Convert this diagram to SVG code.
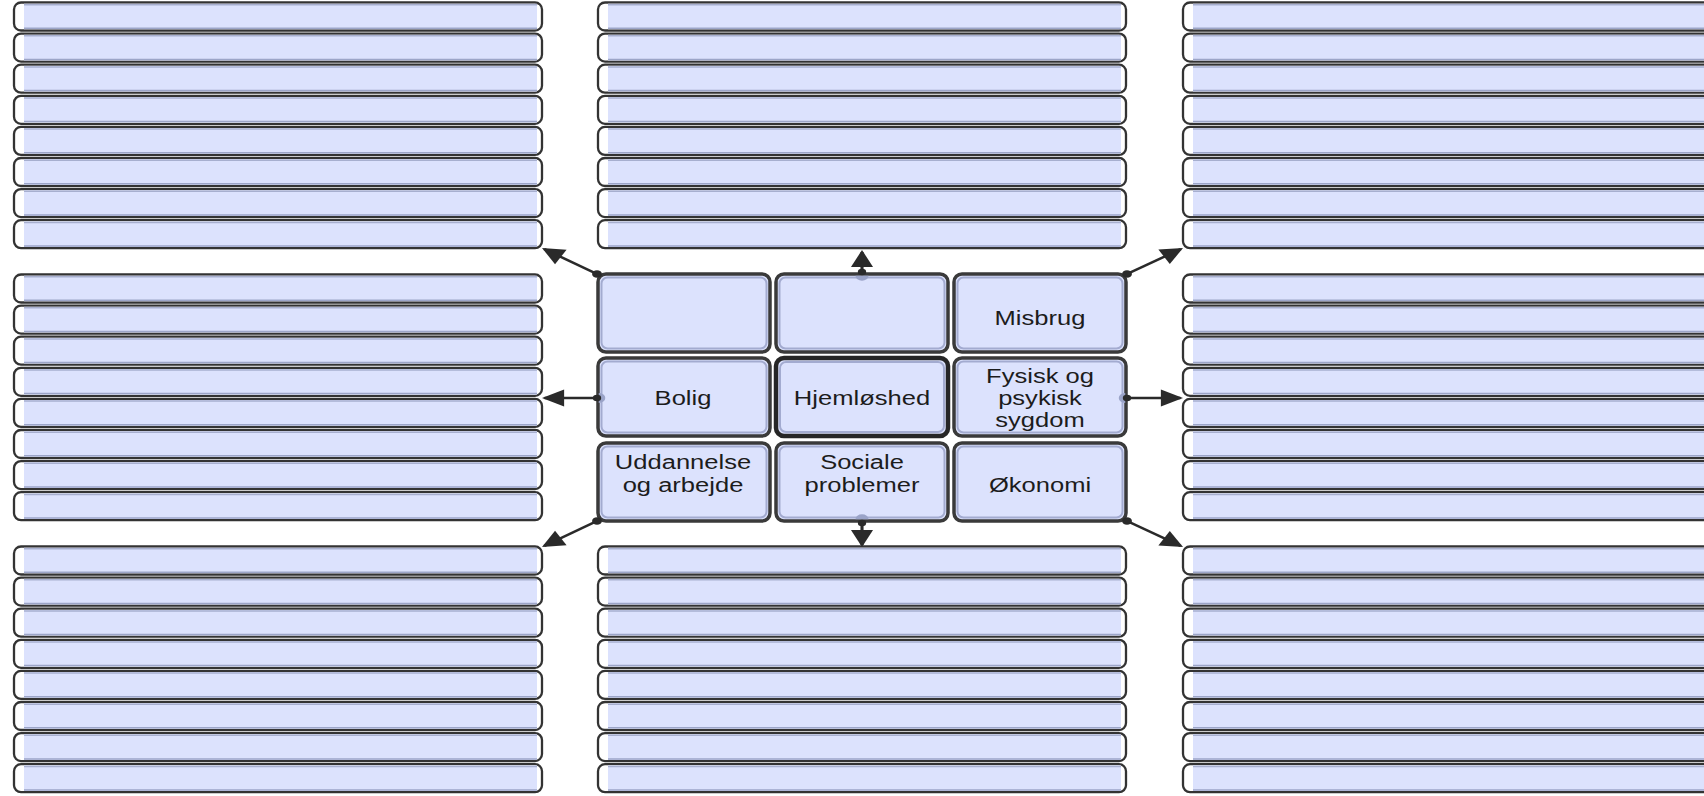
<svg xmlns="http://www.w3.org/2000/svg" xmlns:xlink="http://www.w3.org/1999/xlink" width="1704" height="796" viewBox="0 0 1704 796">
<style>
.t{font-family:"Liberation Sans",Arial,sans-serif;font-size:19.5px;fill:#1c1c1c;text-anchor:middle}
.cell{fill:#dce2fd;stroke:#3a3a3a;stroke-width:3.5}
.cellin{fill:none;stroke:#a3abd0;stroke-width:2}
.hub{stroke:#262626;stroke-width:4.5}
.ln{stroke:#2a2a2a;stroke-width:2.4;fill:none;marker-end:url(#ah)}
.dot{fill:#2a2a2a}
.port{fill:#9aa3c8}
</style>
<defs>
<marker id="ah" markerUnits="userSpaceOnUse" markerWidth="17" markerHeight="17" refX="15" refY="8.5" orient="auto" overflow="visible">
<path d="M0,0 L17,8.5 L0,17 Z" fill="#2a2a2a"/>
</marker>
<g id="bar">
<rect x="0" y="0" width="528" height="28" rx="7" fill="#fff" stroke="#333" stroke-width="2.3"/>
<rect x="10" y="1.2" width="513" height="25.6" fill="#dce2fd"/>
<line x1="10" y1="2.2" x2="523" y2="2.2" stroke="#a7afcf" stroke-width="1.5"/>
<line x1="10" y1="25.8" x2="523" y2="25.8" stroke="#9ca5c8" stroke-width="1.5"/>
</g>
</defs>
<rect width="1704" height="796" fill="#fff"/>

<!-- top-left list -->
<g id="tl1"><use xlink:href="#bar" x="14" y="2.5"/></g>
<g id="tl2"><use xlink:href="#bar" x="14" y="33.6"/></g>
<g id="tl3"><use xlink:href="#bar" x="14" y="64.7"/></g>
<g id="tl4"><use xlink:href="#bar" x="14" y="95.8"/></g>
<g id="tl5"><use xlink:href="#bar" x="14" y="126.9"/></g>
<g id="tl6"><use xlink:href="#bar" x="14" y="158"/></g>
<g id="tl7"><use xlink:href="#bar" x="14" y="189.1"/></g>
<g id="tl8"><use xlink:href="#bar" x="14" y="220.2"/></g>
<!-- top-center list -->
<g id="tc1"><use xlink:href="#bar" x="598" y="2.5"/></g>
<g id="tc2"><use xlink:href="#bar" x="598" y="33.6"/></g>
<g id="tc3"><use xlink:href="#bar" x="598" y="64.7"/></g>
<g id="tc4"><use xlink:href="#bar" x="598" y="95.8"/></g>
<g id="tc5"><use xlink:href="#bar" x="598" y="126.9"/></g>
<g id="tc6"><use xlink:href="#bar" x="598" y="158"/></g>
<g id="tc7"><use xlink:href="#bar" x="598" y="189.1"/></g>
<g id="tc8"><use xlink:href="#bar" x="598" y="220.2"/></g>
<!-- top-right list -->
<g id="tr1"><use xlink:href="#bar" x="1183" y="2.5"/></g>
<g id="tr2"><use xlink:href="#bar" x="1183" y="33.6"/></g>
<g id="tr3"><use xlink:href="#bar" x="1183" y="64.7"/></g>
<g id="tr4"><use xlink:href="#bar" x="1183" y="95.8"/></g>
<g id="tr5"><use xlink:href="#bar" x="1183" y="126.9"/></g>
<g id="tr6"><use xlink:href="#bar" x="1183" y="158"/></g>
<g id="tr7"><use xlink:href="#bar" x="1183" y="189.1"/></g>
<g id="tr8"><use xlink:href="#bar" x="1183" y="220.2"/></g>
<!-- middle-left list -->
<g id="ml1"><use xlink:href="#bar" x="14" y="274.5"/></g>
<g id="ml2"><use xlink:href="#bar" x="14" y="305.6"/></g>
<g id="ml3"><use xlink:href="#bar" x="14" y="336.7"/></g>
<g id="ml4"><use xlink:href="#bar" x="14" y="367.8"/></g>
<g id="ml5"><use xlink:href="#bar" x="14" y="398.9"/></g>
<g id="ml6"><use xlink:href="#bar" x="14" y="430"/></g>
<g id="ml7"><use xlink:href="#bar" x="14" y="461.1"/></g>
<g id="ml8"><use xlink:href="#bar" x="14" y="492.2"/></g>
<!-- middle-right list -->
<g id="mr1"><use xlink:href="#bar" x="1183" y="274.5"/></g>
<g id="mr2"><use xlink:href="#bar" x="1183" y="305.6"/></g>
<g id="mr3"><use xlink:href="#bar" x="1183" y="336.7"/></g>
<g id="mr4"><use xlink:href="#bar" x="1183" y="367.8"/></g>
<g id="mr5"><use xlink:href="#bar" x="1183" y="398.9"/></g>
<g id="mr6"><use xlink:href="#bar" x="1183" y="430"/></g>
<g id="mr7"><use xlink:href="#bar" x="1183" y="461.1"/></g>
<g id="mr8"><use xlink:href="#bar" x="1183" y="492.2"/></g>
<!-- bottom-left list -->
<g id="bl1"><use xlink:href="#bar" x="14" y="546.5"/></g>
<g id="bl2"><use xlink:href="#bar" x="14" y="577.6"/></g>
<g id="bl3"><use xlink:href="#bar" x="14" y="608.7"/></g>
<g id="bl4"><use xlink:href="#bar" x="14" y="639.8"/></g>
<g id="bl5"><use xlink:href="#bar" x="14" y="670.9"/></g>
<g id="bl6"><use xlink:href="#bar" x="14" y="702"/></g>
<g id="bl7"><use xlink:href="#bar" x="14" y="733.1"/></g>
<g id="bl8"><use xlink:href="#bar" x="14" y="764.2"/></g>
<!-- bottom-center list -->
<g id="bc1"><use xlink:href="#bar" x="598" y="546.5"/></g>
<g id="bc2"><use xlink:href="#bar" x="598" y="577.6"/></g>
<g id="bc3"><use xlink:href="#bar" x="598" y="608.7"/></g>
<g id="bc4"><use xlink:href="#bar" x="598" y="639.8"/></g>
<g id="bc5"><use xlink:href="#bar" x="598" y="670.9"/></g>
<g id="bc6"><use xlink:href="#bar" x="598" y="702"/></g>
<g id="bc7"><use xlink:href="#bar" x="598" y="733.1"/></g>
<g id="bc8"><use xlink:href="#bar" x="598" y="764.2"/></g>
<!-- bottom-right list -->
<g id="br1"><use xlink:href="#bar" x="1183" y="546.5"/></g>
<g id="br2"><use xlink:href="#bar" x="1183" y="577.6"/></g>
<g id="br3"><use xlink:href="#bar" x="1183" y="608.7"/></g>
<g id="br4"><use xlink:href="#bar" x="1183" y="639.8"/></g>
<g id="br5"><use xlink:href="#bar" x="1183" y="670.9"/></g>
<g id="br6"><use xlink:href="#bar" x="1183" y="702"/></g>
<g id="br7"><use xlink:href="#bar" x="1183" y="733.1"/></g>
<g id="br8"><use xlink:href="#bar" x="1183" y="764.2"/></g>

<!-- centre grid -->
<g id="c11"><rect class="cell" x="598" y="274" width="172" height="78" rx="8"/><rect class="cellin" x="601.5" y="277.5" width="165" height="71" rx="6"/></g>
<g id="c12"><rect class="cell" x="776" y="274" width="172" height="78" rx="8"/><rect class="cellin" x="779.5" y="277.5" width="165" height="71" rx="6"/></g>
<g id="misbrug"><rect class="cell" x="954" y="274" width="172" height="78" rx="8"/><rect class="cellin" x="957.5" y="277.5" width="165" height="71" rx="6"/>
<text class="t" transform="translate(1040,325) scale(1.31,1)">Misbrug</text></g>
<g id="bolig"><rect class="cell" x="598" y="358" width="172" height="78" rx="8"/><rect class="cellin" x="601.5" y="361.5" width="165" height="71" rx="6"/>
<text class="t" transform="translate(683,405) scale(1.31,1)">Bolig</text></g>
<g id="hjemloshed"><rect class="cell hub" x="776" y="358" width="172" height="78" rx="8"/><rect class="cellin" x="780" y="362" width="164" height="70" rx="6"/>
<text class="t" transform="translate(862,405) scale(1.31,1)">Hjemløshed</text></g>
<g id="sygdom"><rect class="cell" x="954" y="358" width="172" height="78" rx="8"/><rect class="cellin" x="957.5" y="361.5" width="165" height="71" rx="6"/>
<text class="t" transform="translate(1040,383) scale(1.31,1)"><tspan x="0" y="0">Fysisk og</tspan><tspan x="0" y="22">psykisk</tspan><tspan x="0" y="44">sygdom</tspan></text></g>
<g id="uddannelse"><rect class="cell" x="598" y="443" width="172" height="78" rx="8"/><rect class="cellin" x="601.5" y="446.5" width="165" height="71" rx="6"/>
<text class="t" transform="translate(683,469) scale(1.31,1)"><tspan x="0" y="0">Uddannelse</tspan><tspan x="0" y="23">og arbejde</tspan></text></g>
<g id="sociale"><rect class="cell" x="776" y="443" width="172" height="78" rx="8"/><rect class="cellin" x="779.5" y="446.5" width="165" height="71" rx="6"/>
<text class="t" transform="translate(862,469) scale(1.31,1)"><tspan x="0" y="0">Sociale</tspan><tspan x="0" y="23">problemer</tspan></text></g>
<g id="okonomi"><rect class="cell" x="954" y="443" width="172" height="78" rx="8"/><rect class="cellin" x="957.5" y="446.5" width="165" height="71" rx="6"/>
<text class="t" transform="translate(1040,492) scale(1.31,1)">Økonomi</text></g>

<!-- connectors -->
<g id="connectors" transform="scale(1.3,1)">
<path class="port" d="M658.08,275.8 A5,5 0 0 0 668.08,275.8 Z"/>
<path class="port" d="M460.6,393 A5,5 0 0 1 460.6,403 Z"/>
<path class="port" d="M865.6,393 A5,5 0 0 0 865.6,403 Z"/>
<path class="port" d="M658.08,519.2 A5,5 0 0 1 668.08,519.2 Z"/>
<line class="ln" x1="459.23" y1="274" x2="418.62" y2="249.05"/>
<line class="ln" x1="663.08" y1="274" x2="663.08" y2="252"/>
<line class="ln" x1="866.92" y1="274" x2="908.3" y2="249.05"/>
<line class="ln" x1="459.23" y1="398" x2="418.92" y2="398"/>
<line class="ln" x1="866.92" y1="398" x2="908" y2="398"/>
<line class="ln" x1="459.23" y1="521" x2="418.62" y2="545.95"/>
<line class="ln" x1="663.08" y1="521" x2="663.08" y2="545"/>
<line class="ln" x1="866.92" y1="521" x2="908.3" y2="545.95"/>
<circle class="dot" cx="459.23" cy="274" r="3.8"/>
<circle class="dot" cx="663.08" cy="272" r="3.2"/>
<circle class="dot" cx="866.92" cy="274" r="3.8"/>
<circle class="dot" cx="459.23" cy="398" r="3.2"/>
<circle class="dot" cx="866.92" cy="398" r="3.2"/>
<circle class="dot" cx="459.23" cy="521" r="3.8"/>
<circle class="dot" cx="663.08" cy="523" r="3.2"/>
<circle class="dot" cx="866.92" cy="521" r="3.8"/>
</g>
</svg>
